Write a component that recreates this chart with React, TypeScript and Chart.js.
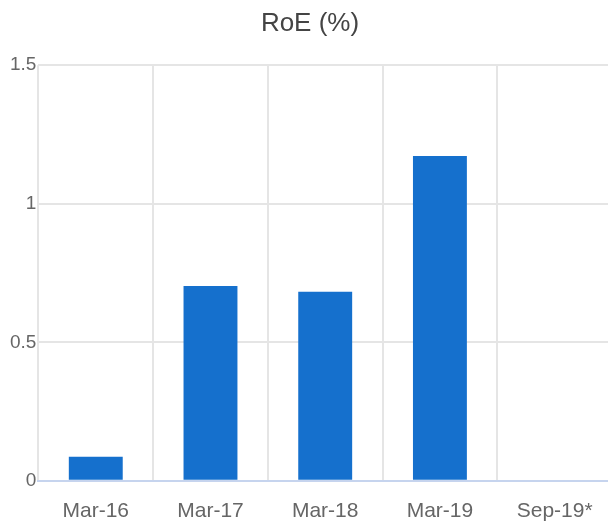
import React, { useEffect, useRef } from "react";
import { Chart, registerables } from "chart.js";

Chart.register(...registerables);

const categories = ["Mar-16", "Mar-17", "Mar-18", "Mar-19", "Sep-19*"];
const roeValues = [0.087, 0.703, 0.682, 1.172, 0];
const yTicks = [0, 0.5, 1, 1.5];
const titleText = "RoE (%)";

const FONT = "Liberation Sans, Arial, sans-serif";

export default function App() {
  const ref = useRef<HTMLCanvasElement | null>(null);
  useEffect(() => {
    const prevMargin = document.body.style.margin;
    document.body.style.margin = "0";
    if (!ref.current) return;
    const chart = new Chart(ref.current, {
      type: "bar",
      data: {
        labels: categories,
        datasets: [
          {
            label: titleText,
            data: roeValues,
            backgroundColor: "#1570cd",
            borderWidth: 0,
            categoryPercentage: 1,
            barPercentage: 0.47,
          },
        ],
      },
      options: {
        animation: false,
        responsive: false,
        maintainAspectRatio: false,
        layout: { padding: { left: 0, right: 0, top: 0, bottom: 4 } },
        plugins: {
          legend: { display: false },
          tooltip: { enabled: false },
          title: {
            display: true,
            text: titleText,
            color: "#444444",
            font: { family: FONT, size: 26, weight: "normal" },
            padding: { top: 0, bottom: 26 },
          },
        },
        scales: {
          x: {
            grid: { color: "#e5e5e5", lineWidth: 2, offset: true, drawTicks: false },
            border: { display: true, color: "#c6d4ee", width: 2 },
            ticks: {
              color: "#666666",
              padding: 18,
              font: { family: FONT, size: 21 },
            },
          },
          y: {
            min: 0,
            max: 1.5,
            afterBuildTicks: (axis: any) => {
              axis.ticks = yTicks.map((v) => ({ value: v }));
            },
            grid: { color: "#e5e5e5", lineWidth: 2, drawTicks: false },
            border: { display: false },
            ticks: {
              color: "#666666",
              padding: 2,
              font: { family: FONT, size: 19 },
              callback: (v: any) => String(v),
            },
          },
        },
      },
    });
    return () => {
      chart.destroy();
      document.body.style.margin = prevMargin;
    };
  }, []);
  return (
    <div style={{ width: 608, height: 523, overflow: "hidden", position: "relative" }}>
      <canvas
        ref={ref}
        width={604}
        height={538}
        style={{ display: "block", position: "absolute", left: 8, top: 8 }}
      />
    </div>
  );
}
